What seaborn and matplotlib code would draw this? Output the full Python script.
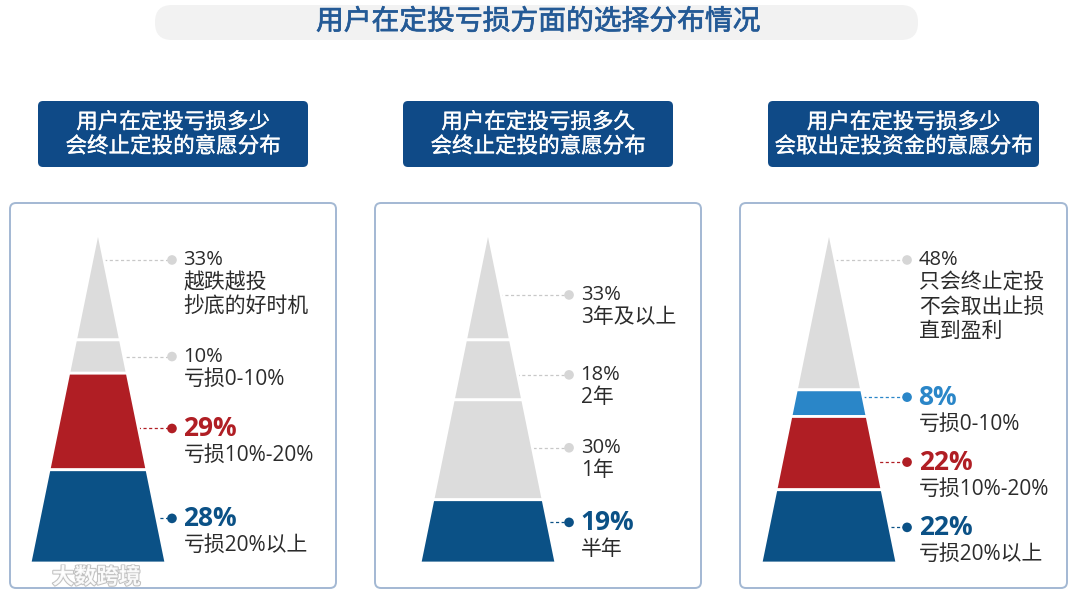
import matplotlib
matplotlib.use("Agg")
import numpy as np
import pandas as pd
import seaborn as sns
import matplotlib.pyplot as plt
from matplotlib.patches import FancyBboxPatch
import matplotlib.patheffects as pe

# ---- data -------------------------------------------------------------
main_title = "用户在定投亏损方面的选择分布情况"
panel_titles = [
    "用户在定投亏损多少\n会终止定投的意愿分布",
    "用户在定投亏损多久\n会终止定投的意愿分布",
    "用户在定投亏损多少\n会取出定投资金的意愿分布",
]

# segments listed top (apex) to bottom
stop_by_loss_values = [33, 10, 29, 28]
stop_by_loss_labels = ["越跌越投\n抄底的好时机", "亏损0-10%", "亏损10%-20%", "亏损20%以上"]
stop_by_loss_tones = ["gray", "gray", "red", "navy"]

stop_by_time_values = [33, 18, 30, 19]
stop_by_time_labels = ["3年及以上", "2年", "1年", "半年"]
stop_by_time_tones = ["gray", "gray", "gray", "navy"]

withdraw_values = [48, 8, 22, 22]
withdraw_labels = ["只会终止定投\n不会取出止损\n直到盈利", "亏损0-10%", "亏损10%-20%", "亏损20%以上"]
withdraw_tones = ["gray", "sky", "red", "navy"]

watermark = "大数跨境"

# ---- style ------------------------------------------------------------
sns.set_theme(style="white")
plt.rcParams["font.family"] = ["Open Sans", "Noto Sans CJK SC", "DejaVu Sans"]

fill_colors = {"gray": "#dcdcdc", "red": "#b01e24", "navy": "#0b5186", "sky": "#2a86c8"}
dot_colors = {"gray": "#d6d6d6", "red": "#b01e24", "navy": "#0b5186", "sky": "#2a86c8"}
pct_colors = {"gray": "#2b2b2b", "red": "#b01e24", "navy": "#0b5186", "sky": "#2a86c8"}
header_color = "#0f4a87"
frame_color = "#a3b8d3"
title_color = "#245a96"


def medium(color, w=0.6):
    # thin outline to give regular glyphs a medium weight
    return [pe.withStroke(linewidth=w, foreground=color)]


W, H = 1080, 600
fig = plt.figure(figsize=(W / 100, H / 100), dpi=100)
fig.patch.set_facecolor("white")

# background layer in pixel units
bg = fig.add_axes([0, 0, 1, 1], zorder=0)
bg.set_xlim(0, W)
bg.set_ylim(H, 0)
bg.axis("off")

bg.add_patch(FancyBboxPatch((155, 5), 763, 35, boxstyle="round,pad=0,rounding_size=17",
                            fc="#f2f2f2", ec="none"))
bg.text(538, 22.5, main_title, ha="center", va="center", fontsize=20,
        color=title_color, path_effects=medium(title_color, 0.5))

header_boxes = [(38, 270), (403, 270), (768, 271)]
frames = [(10, 326), (375, 326), (740, 327)]
for (hx, hw), (fx, fw), title in zip(header_boxes, frames, panel_titles):
    bg.add_patch(FancyBboxPatch((hx, 101), hw, 66, boxstyle="round,pad=0,rounding_size=5",
                                fc=header_color, ec="none"))
    bg.text(hx + hw / 2, 135, title, ha="center", va="center", fontsize=15.5,
            color="white", linespacing=1.2, path_effects=medium("white", 0.25))
    bg.add_patch(FancyBboxPatch((fx, 203), fw, 385, boxstyle="round,pad=0,rounding_size=6",
                                fc="none", ec=frame_color, lw=1.4))

# ---- pyramids ---------------------------------------------------------
panels = [
    (stop_by_loss_values, stop_by_loss_labels, stop_by_loss_tones),
    (stop_by_time_values, stop_by_time_labels, stop_by_time_tones),
    (withdraw_values, withdraw_labels, withdraw_tones),
]
pyramid_centers = [98, 488, 829]
dot_offsets = [0.544, 0.596, 0.574]
# small vertical nudges of the label anchors (pixels, +down)
label_nudges = [[0, 0, 7, 2], [10, 5, -2, -9], [0, -6, 9, 1]]
base_px = 136.0          # base width in pixels
px_per_unit = 333 / 100  # vertical pixels per percent

for (values, labels, tones), (fx, fw), cx, dot_x, nudges in zip(
        panels, frames, pyramid_centers, dot_offsets, label_nudges):
    ax = fig.add_axes([fx / W, (H - 588) / H, fw / W, 385 / H], zorder=1)
    ax.patch.set_alpha(0)
    ax.set_xlim((fx - cx) / base_px, (fx + fw - cx) / base_px)
    ax.set_ylim(-(588 - 563) / px_per_unit, 100 + (230 - 203) / px_per_unit)

    total = float(sum(values))
    half = lambda y: 0.5 * (1 - y / total)
    tops = total - np.concatenate([[0], np.cumsum(values)[:-1]])
    bottoms = tops - np.array(values)

    rows = []
    for v, lab, tone, y1, y0, nd in zip(values, labels, tones, tops, bottoms, nudges):
        ax.fill([-half(y0), half(y0), half(y1), -half(y1)], [y0, y0, y1, y1],
                color=fill_colors[tone], ec="white", lw=2, zorder=2)
        lines = lab.split("\n")
        ly = (y1 - 9 if len(lines) > 1 else (y0 + y1) / 2) - nd / px_per_unit
        lead = "#c8c8c8" if tone == "gray" else fill_colors[tone]
        ax.plot([0, dot_x], [ly, ly], color=lead, lw=0.9, ls=(0, (2.5, 2)), zorder=1)
        rows.append({"x": dot_x, "y": ly, "tone": tone})

        tx = dot_x + 0.085
        bold = tone != "gray"
        ax.text(tx, ly, f"{v:g}%", ha="left", va="center",
                fontsize=19 if bold else 14.5, fontweight="bold" if bold else "normal",
                color=pct_colors[tone], zorder=4)
        first = (27 if bold else 23) / px_per_unit
        for i, line in enumerate(lines):
            ax.text(tx, ly - first - i * 24 / px_per_unit, line, ha="left", va="center",
                    fontsize=15, color="#2b2b2b", zorder=4)

    df = pd.DataFrame(rows)
    sns.scatterplot(data=df, x="x", y="y", hue="tone", palette=dot_colors, s=48,
                    edgecolor="none", legend=False, ax=ax, zorder=3)
    ax.axis("off")

# watermark
bg.text(52, 578, watermark, ha="left", va="center", fontsize=16, color="white",
        fontweight="bold", alpha=0.9, zorder=5,
        path_effects=[pe.withStroke(linewidth=1.5, foreground="#bbbbbb")])

fig.savefig("out.png", dpi=100)
